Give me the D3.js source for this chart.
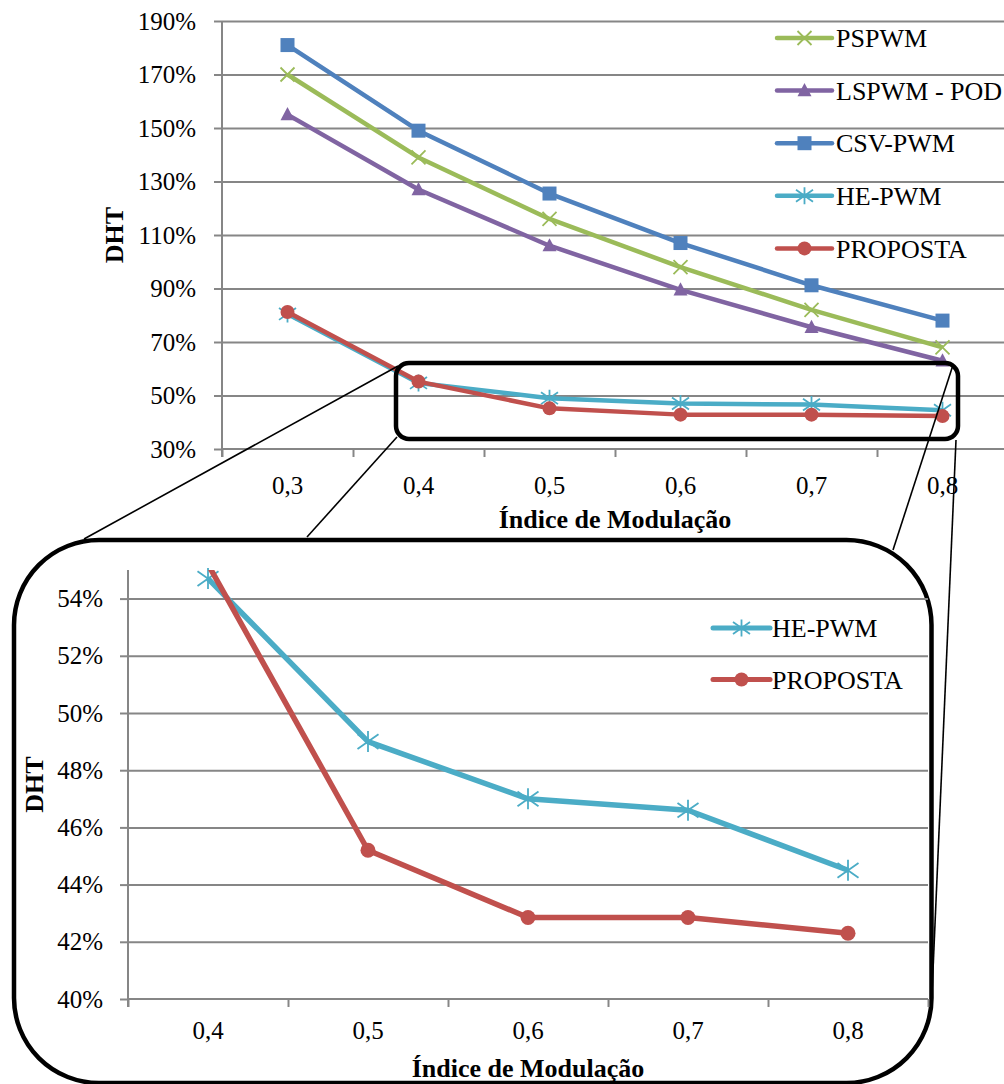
<!DOCTYPE html>
<html><head><meta charset="utf-8">
<script src="https://cdn.jsdelivr.net/npm/d3@7"></script>
<style>
body{margin:0;background:#fff}
svg text{font-family:"Liberation Serif","Tinos","Times New Roman","Nimbus Roman","Nimbus Roman No9 L","DejaVu Serif",serif !important;fill:#000}
</style>
</head><body>
<svg id="c" width="1004" height="1084"></svg>
<script>
// ---------- data ----------
const categories = ["0,3","0,4","0,5","0,6","0,7","0,8"];
const zoomCategories = ["0,4","0,5","0,6","0,7","0,8"];
const pspwm    = [170, 139, 116, 98, 82, 68];
const lspwm    = [155, 127, 106, 89.5, 75.5, 63];
const csvpwm   = [181, 149, 125.5, 107, 91.2, 78];
const hepwm    = [80.5, 54.7, 49, 47, 46.6, 44.5];
const proposta = [81.2, 55.2, 45.2, 42.85, 42.85, 42.3];
const yTicksTop  = [30,50,70,90,110,130,150,170,190];
const yTicksZoom = [40,42,44,46,48,50,52,54];
const seriesNames = ["PSPWM","LSPWM - POD","CSV-PWM","HE-PWM","PROPOSTA"];
const zoomSeriesNames = ["HE-PWM","PROPOSTA"];
const xTitle = "Índice de Modulação";
const yTitle = "DHT";

// ---------- styles ----------
const FONT = '"Liberation Serif","Tinos","Times New Roman","Nimbus Roman","DejaVu Serif",serif';
const colors = {"PSPWM":"#9BBB59","LSPWM - POD":"#8064A2","CSV-PWM":"#4F81BD","HE-PWM":"#4BACC6","PROPOSTA":"#C0504D"};
const markers = {"PSPWM":"x","LSPWM - POD":"triangle","CSV-PWM":"square","HE-PWM":"star","PROPOSTA":"circle"};
const values = {"PSPWM":pspwm,"LSPWM - POD":lspwm,"CSV-PWM":csvpwm,"HE-PWM":hepwm,"PROPOSTA":proposta};
const GRID = "#868686";

const svg = d3.select("#c");
svg.append("rect").attr("width",1004).attr("height",1084).attr("fill","#fff");

function drawMarker(g, type, cx, cy, s, color){
  if(type==="square"){
    g.append("rect").attr("x",cx-s/2).attr("y",cy-s/2).attr("width",s).attr("height",s).attr("fill",color);
  } else if(type==="triangle"){
    const h = s*0.9;
    g.append("path").attr("d",`M${cx},${cy-h*0.6}L${cx+s/2},${cy+h*0.45}L${cx-s/2},${cy+h*0.45}Z`).attr("fill",color);
  } else if(type==="circle"){
    g.append("circle").attr("cx",cx).attr("cy",cy).attr("r",s/2).attr("fill",color);
  } else if(type==="x"){
    const r=s/2;
    g.append("path").attr("d",`M${cx-r},${cy-r}L${cx+r},${cy+r}M${cx-r},${cy+r}L${cx+r},${cy-r}`)
      .attr("stroke",color).attr("stroke-width",1.8).attr("fill","none");
  } else if(type==="star"){
    const r=s/2;
    g.append("path").attr("d",`M${cx-r},${cy-r*0.7}L${cx+r},${cy+r*0.7}M${cx-r},${cy+r*0.7}L${cx+r},${cy-r*0.7}M${cx},${cy-r}L${cx},${cy+r}`)
      .attr("stroke",color).attr("stroke-width",1.8).attr("fill","none");
  }
}

function chart(opt){
  const {left,right,top,bottom,cats,yDomain,yTicks,names,offset,lw,msize,starSize,tickPad,xLabelOff,xTitleY,yTitleX,clipId} = opt;
  const g = svg.append("g");
  const x = d3.scaleBand().domain(cats).range([left,right]);
  const xb = d3.scaleLinear().domain([0,cats.length]).range([left,right]);
  const y = d3.scaleLinear().domain(yDomain).range([bottom,top]);
  // gridlines
  const grid = g.append("g").attr("transform",`translate(${left},0)`)
    .call(d3.axisLeft(y).tickValues(yTicks.slice(1)).tickSize(-(right-left)).tickFormat(""));
  grid.select(".domain").remove();
  grid.selectAll("line").attr("stroke",GRID).attr("stroke-width",2);
  // y axis
  const ya = g.append("g").attr("transform",`translate(${left},0)`)
    .call(d3.axisLeft(y).tickValues(yTicks).tickSize(8).tickPadding(tickPad).tickFormat(d=>d+"%"));
  ya.attr("font-family",FONT);
  ya.select(".domain").attr("stroke",GRID).attr("stroke-width",2).attr("d",`M0,${top}V${bottom+8}`);
  ya.selectAll("line").attr("stroke",GRID).attr("stroke-width",2);
  ya.selectAll("text").attr("font-size",25).style("font-family",FONT);
  // x axis ticks at band boundaries
  const xa = g.append("g").attr("transform",`translate(0,${bottom})`)
    .call(d3.axisBottom(xb).tickValues(d3.range(cats.length+1)).tickSize(8).tickFormat(""));
  xa.select(".domain").attr("stroke",GRID).attr("stroke-width",2).attr("d",`M${left},0H${right}`);
  xa.selectAll("line").attr("stroke",GRID).attr("stroke-width",2);
  // x labels
  const xl = g.append("g").attr("transform",`translate(0,${bottom})`)
    .call(d3.axisBottom(x).tickSize(0).tickPadding(xLabelOff));
  xl.attr("font-family",FONT);
  xl.select(".domain").remove();
  xl.selectAll("text").attr("font-size",25).style("font-family",FONT);
  // titles
  g.append("text").attr("x",(left+right)/2).attr("y",xTitleY).attr("text-anchor","middle").attr("dy","0.35em")
    .attr("font-size",26).attr("font-weight","bold").style("font-family",FONT).text(xTitle);
  g.append("text").attr("transform",`translate(${yTitleX},${(top+bottom)/2}) rotate(-90)`).attr("text-anchor","middle").attr("dy","0.35em")
    .attr("font-size",26).attr("font-weight","bold").style("font-family",FONT).text(yTitle);
  // clip
  let clip=null;
  if(clipId){
    svg.append("clipPath").attr("id",clipId).append("rect").attr("x",left).attr("y",top).attr("width",right-left).attr("height",bottom-top);
    clip=`url(#${clipId})`;
  }
  // series
  names.forEach(n=>{
    const vals = values[n].slice(offset);
    const line = d3.line().x((d,i)=>x(cats[i])+x.bandwidth()/2).y(d=>y(d));
    g.append("path").attr("d",line(vals)).attr("fill","none").attr("stroke",colors[n]).attr("stroke-width",lw)
      .attr("stroke-linejoin","round").attr("clip-path",clip);
    const mg = g.append("g");
    vals.forEach((v,i)=>{
      if(v>yDomain[1]||v<yDomain[0]) return;
      const s = markers[n]==="star"?starSize:msize;
      drawMarker(mg, markers[n], x(cats[i])+x.bandwidth()/2, y(v), s, colors[n]);
    });
  });
  return {g,x,y};
}

// ---------- top chart ----------
chart({left:222,right:1008,top:21,bottom:449,cats:categories,yDomain:[30,190],yTicks:yTicksTop,names:seriesNames,offset:0,
  lw:4.5,msize:14,starSize:17,tickPad:18,xLabelOff:27,xTitleY:519,yTitleX:114,clipId:null});

// top legend
const legTop = svg.append("g");
seriesNames.forEach((n,i)=>{
  const yy = 38 + i*52.6;
  legTop.append("line").attr("x1",777).attr("x2",832).attr("y1",yy).attr("y2",yy).attr("stroke",colors[n]).attr("stroke-width",4.5).attr("stroke-linecap","round");
  drawMarker(legTop, markers[n], 804.5, yy, markers[n]==="star"?17:14, colors[n]);
  legTop.append("text").attr("x",836).attr("y",yy).attr("dy","0.35em").attr("font-size",26).style("font-family",FONT).text(n);
});

// ---------- callout shapes ----------
const ann = svg.append("g");
ann.append("rect").attr("x",396).attr("y",363).attr("width",562).attr("height",76).attr("rx",13)
  .attr("fill","none").attr("stroke","#000").attr("stroke-width",4.5);
[[398,366,84,539],[397,437,307,537],[953,365,893,550],[956,440,931.5,1005]].forEach(l=>{
  ann.append("line").attr("x1",l[0]).attr("y1",l[1]).attr("x2",l[2]).attr("y2",l[3]).attr("stroke","#000").attr("stroke-width",1.6);
});
ann.append("rect").attr("x",14).attr("y",540).attr("width",917.5).attr("height",543).attr("rx",85)
  .attr("fill","#fff").attr("stroke","#000").attr("stroke-width",4.5);

// ---------- zoom chart ----------
chart({left:128,right:928,top:570,bottom:999,cats:zoomCategories,yDomain:[40,55],yTicks:yTicksZoom,names:zoomSeriesNames,offset:1,
  lw:5.5,msize:15,starSize:21,tickPad:17,xLabelOff:22,xTitleY:1068,yTitleX:34,clipId:"clipZoom"});

// zoom legend
const legZ = svg.append("g");
zoomSeriesNames.forEach((n,i)=>{
  const yy = 628 + i*51.5;
  legZ.append("line").attr("x1",713).attr("x2",770).attr("y1",yy).attr("y2",yy).attr("stroke",colors[n]).attr("stroke-width",5).attr("stroke-linecap","round");
  drawMarker(legZ, markers[n], 741.5, yy, markers[n]==="star"?17:14, colors[n]);
  legZ.append("text").attr("x",772).attr("y",yy).attr("dy","0.35em").attr("font-size",26).style("font-family",FONT).text(n);
});
</script>
</body></html>
